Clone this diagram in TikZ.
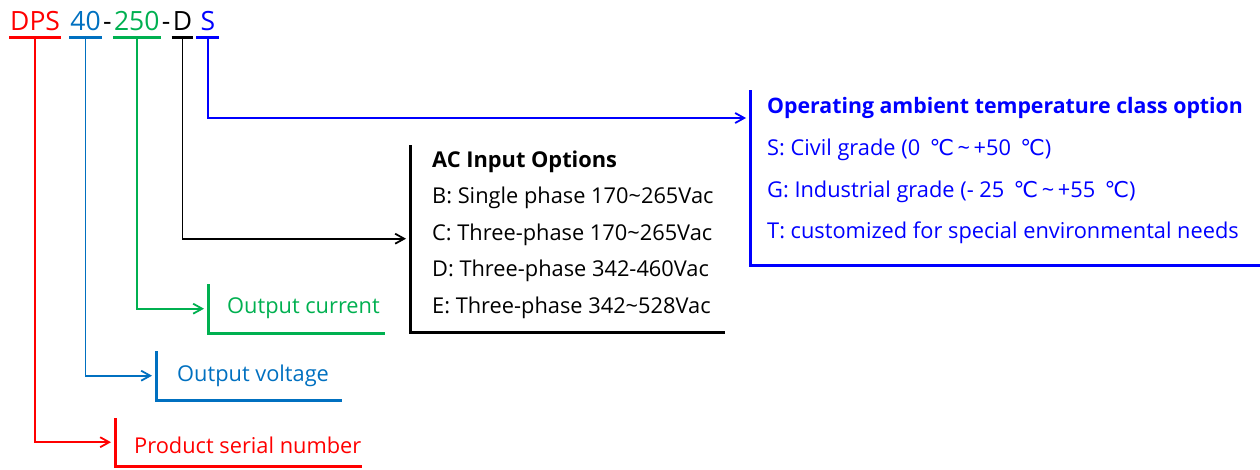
\documentclass[tikz,border=0pt]{standalone}
\usepackage{fontspec}
\setmainfont{Open Sans}
\newfontfamily\symfont{DejaVu Sans}
\usetikzlibrary{positioning,arrows.meta}
\definecolor{dpsred}{HTML}{FF0000}
\definecolor{voltblue}{HTML}{0070C0}
\definecolor{curgreen}{HTML}{00B050}
\definecolor{tempblue}{HTML}{0000FF}
\newcommand{\degc}{\,{\symfont\char"2103}}

\begin{document}
\begin{tikzpicture}[x=1pt,y=-1pt,
  code/.style={inner xsep=1pt, inner ysep=7pt, anchor=base west, font=\fontsize{26.5}{30}\selectfont},
  box/.style={inner sep=0pt, anchor=north west},
  txt/.style={inner sep=0pt, font=\fontsize{21.8}{26}\selectfont},
  conn/.style={line width=1.8pt, -{Straight Barb[length=9pt,width=10pt]}, shorten >=4pt},
  bar/.style={line width=3pt}]
\useasboundingbox (0,0) rectangle (1260,469);
% model code
\node[code,dpsred] (dps) at (9,30) {DPS};
\node[code,voltblue] (volt) at ([xshift=8pt]dps.base east) {40};
\node[code] (dasha) at (volt.base east) {-};
\node[code,curgreen] (cur) at (dasha.base east) {250};
\node[code] (dashb) at (cur.base east) {-};
\node[code] (opt) at (dashb.base east) {D};
\node[code,tempblue,inner xsep=4pt] (temp) at ([xshift=3pt]opt.base east) {S};
\foreach \n/\c in {dps/dpsred,volt/voltblue,cur/curgreen,opt/black,temp/tempblue}
  \draw[bar,\c] (\n.south west) -- (\n.south east);

% option boxes
\node[box,minimum width=247pt,minimum height=48pt] (serialbox) at (115,418) {};
\node[box,minimum width=186pt,minimum height=49pt] (voltbox) at (156,351) {};
\node[box,minimum width=177pt,minimum height=49pt] (curbox) at (208,284) {};
\node[box,minimum width=315pt,minimum height=187pt] (inbox) at (410,145) {};
\node[box,minimum width=510pt,minimum height=175pt] (tempbox) at (750,90) {};
\coordinate (tempin) at (750,118);
\foreach \n/\c in {serialbox/dpsred,voltbox/voltblue,curbox/curgreen,inbox/black,tempbox/tempblue}
  \draw[bar,\c] (\n.north west) |- (\n.south east);

\node[txt,dpsred,right=19pt of serialbox.west,yshift=-3pt] (serial) {Product serial number};
\node[txt,voltblue,right=21pt of voltbox.west] (voltage) {Output voltage};
\node[txt,curgreen,right=19pt of curbox.west] (current) {Output current};
\node[txt,right=22pt of inbox.west,yshift=4pt,align=left,font=\fontsize{21.8}{36.5}\selectfont] (acopts)
  {\textbf{AC Input Options}\\
   B: Single phase 170\textasciitilde265Vac\\
   C: Three-phase 170\textasciitilde265Vac\\
   D: Three-phase 342-460Vac\\
   E: Three-phase 342\textasciitilde528Vac};
\node[txt,tempblue,right=17pt of tempbox.west,yshift=7pt,align=left,font=\fontsize{21.8}{41.7}\selectfont] (tempopts)
  {{\fontsize{21.3}{25}\selectfont\bfseries Operating ambient temperature class option}\\
   S: Civil grade (0 \degc\,\textasciitilde\,+50 \degc)\\
   G: Industrial grade (- 25 \degc\,\textasciitilde\,+55 \degc)\\
   T: customized for special environmental needs};

% connectors
\draw[conn,dpsred] (dps.south) |- (serialbox.west);
\draw[conn,voltblue] (volt.south) |- (voltbox.west);
\draw[conn,curgreen] (cur.south) |- (curbox.west);
\draw[conn] (opt.south) |- (inbox.west);
\draw[conn,tempblue] (temp.south) |- (tempin);
\end{tikzpicture}
\end{document}
